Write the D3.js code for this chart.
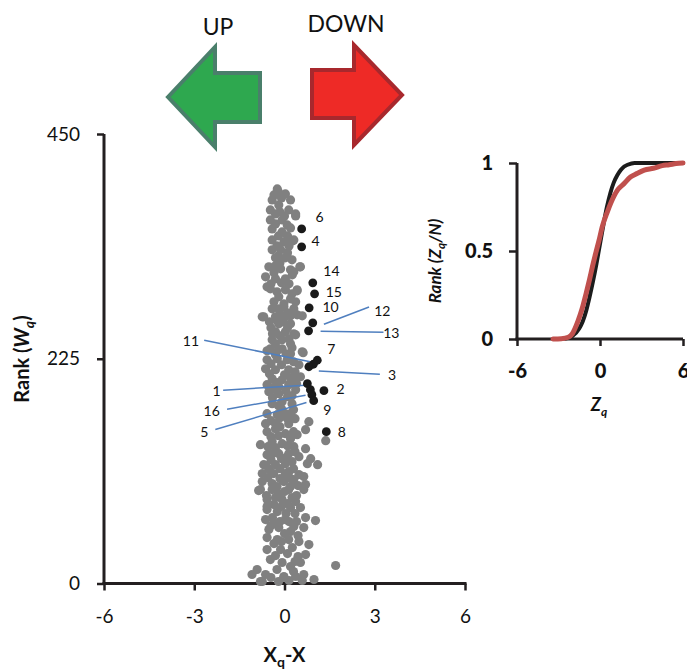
<!DOCTYPE html>
<html>
<head>
<meta charset="utf-8">
<script src="https://cdn.jsdelivr.net/npm/d3@7"></script>
<style>
  html, body { margin: 0; padding: 0; background: #fff; }
  svg { display: block; font-family: Lato, "Open Sans", sans-serif; }
</style>
</head>
<body>
<svg id="chart" width="687" height="670"></svg>
<script>
// ---------- DATA ----------
// Grey points: [Xq - X, rank Wq]
const greyPoints = [
[-0.24,395],[0.03,390],[-0.41,384],[0.2,384],[-0.19,379],[-0.47,374],[0.14,374],[0.37,370],[0.37,368],[-0.47,364],[-0.08,364],[0.09,359],[-0.3,360],[-0.41,355],[-0.08,352],[0.1,348],[-0.41,344],[0.31,344],[0.26,343],[-0.02,342],[-0.25,338],[-0.41,334],[-0.13,334],[0.1,331],[-0.3,326],[0.03,326],[-0.15,321],[-0.52,317],[0.53,317],[0.51,317],[-0.13,315],[0.2,314],[0.31,312],[-0.35,311],[0.26,309],[-0.63,307],[-0.3,305],[0.03,305],[-0.1,301],[-0.58,297],[-0.47,295],[0.03,294],[0.42,294],[0.42,293],[-0.19,287],[0.2,285],[-0.35,282],[0.37,282],[-0.02,280],[-0.41,275],[-0.02,277],[0.31,275],[0.1,271],[-0.74,267],[-0.69,267],[-0.3,267],[0.03,267],[0.42,269],[0.59,268],[-0.24,263],[-0.19,260],[0.2,260],[-0.45,256],[0.1,256],[-0.3,252],[0.03,252],[0.31,250],[0.37,249],[-0.15,248],[-0.41,244],[-0.08,244],[0.2,240],[-0.3,240],[-0.47,235],[-0.08,235],[-0.58,233],[0.62,231],[0.59,232],[0.2,230],[-0.3,229],[-0.58,224],[-0.24,225],[0.09,224],[0.48,219],[-0.1,219],[-0.63,215],[-0.3,214],[0.14,214],[0.35,212],[-0.5,210],[-0.41,205],[-0.08,204],[0.31,205],[0.53,207],[-0.25,201],[-0.58,199],[-0.19,197],[0.14,199],[0.4,200],[-0.52,192],[-0.19,190],[0.37,194],[0.1,187],[-0.4,186],[-0.41,180],[-0.08,182],[0.25,180],[-0.58,170],[0.03,170],[-0.24,169],[0.3,174],[-0.1,175],[0.81,162],[-0.63,160],[-0.3,160],[0.14,160],[0.35,165],[0.7,154],[-0.58,152],[0.03,150],[0.42,149],[-0.3,155],[1.37,143],[-0.8,139],[-0.41,142],[-0.08,140],[0.2,145],[0.31,137],[0.7,135],[-0.58,129],[-0.19,130],[0.14,130],[0.48,127],[0.87,125],[-0.69,119],[-0.3,119],[0.03,120],[0.76,120],[1.1,119],[-0.45,124],[0.3,115],[-0.74,110],[-0.36,110],[0.03,110],[0.48,109],[0.64,107],[-0.15,105],[-0.74,102],[-0.41,100],[-0.02,102],[0.31,104],[0.7,99],[0.2,97],[-0.86,93],[-0.8,94],[-0.41,94],[0.14,94],[0.64,94],[-0.2,90],[0.4,88],[-0.58,84],[-0.08,84],[0.37,82],[-0.35,79],[-0.58,77],[-0.58,74],[-0.24,72],[0.2,76],[0.53,76],[0.05,70],[1.03,63],[-0.63,64],[0.7,66],[0.03,64],[-0.35,60],[0.4,62],[-0.52,54],[-0.19,56],[0.31,57],[0.64,56],[0.0,50],[-0.58,46],[-0.24,44],[0.14,44],[0.48,42],[0.81,39],[-0.58,34],[-0.13,34],[0.26,36],[0.7,29],[-0.3,28],[0.45,27],[-0.47,24],[-0.08,21],[0.2,17],[0.53,21],[1.7,18],[-0.91,14],[-0.63,9],[-1.08,9],[-0.02,7],[0.37,7],[0.64,9],[0.98,4],[-0.74,2],[-0.8,2],[0.59,3],[-0.02,6],
[-0.2,392],[-0.1,386],[-0.3,370],[0.0,368],[-0.2,348],[0.15,338],[-0.3,318],[0.15,300],[-0.25,292],[-0.15,270],[-0.05,262],[0.15,245],[-0.2,234],[0.3,222],[0.0,209],[-0.3,194],[0.05,193],[-0.2,178],[0.1,165],[-0.15,157],[-0.45,147],[0.1,138],[-0.3,136],[-0.1,125],[0.25,122],[-0.5,114],[0.15,112],[-0.25,97],[0.0,92],[0.25,86],[-0.3,86],[-0.1,77],[0.35,70],[-0.4,66],[0.2,52],[-0.35,40],[0.1,30],[-0.25,14],[0.3,12],[-0.45,6],
[-0.35,389],[-0.15,372],[0.2,356],[-0.2,328],[0.25,324],[-0.45,300],[0.25,290],[-0.2,275],[0.2,268],[-0.5,262],[-0.4,250],[0.25,236],[0.05,230],[-0.45,220],[0.2,206],[-0.4,196],[0.25,188],[-0.15,166],[0.2,170],[-0.45,163],[-0.2,148],[0.3,152],[-0.55,137],[0.35,132],[-0.4,130],[0.05,126],[-0.6,118],[-0.15,115],[0.2,105],[-0.55,106],[0.45,98],[-0.6,88],[0.1,80],[-0.15,62],[0.15,62],[-0.45,58],[0.45,48],[-0.1,42],[0.35,22],[-0.2,2],[0.15,3]
];

// Highlighted (black) points: id, Xq - X, rank
const hiIds   = ["6","4","14","15","10","12","13","7","11","3","1","16","5","9","2","8"];
const hiX     = [0.57,0.57,0.94,1.0,0.82,0.94,0.8,1.09,0.96,0.81,0.76,0.86,0.91,0.97,1.31,1.39];
const hiRank  = [355,337,301,290,276,261,253,223.5,219.5,217,200,194,189,183,193,152];

// Label anchor positions (data units) for each id
const labelIds = ["6","4","14","15","10","12","13","11","7","3","1","2","16","9","5","8"];
const labelX   = [1.03,0.9,1.29,1.37,1.26,2.98,3.28,-3.38,1.42,3.44,-2.39,1.73,-2.69,1.29,-2.8,1.77];
const labelY   = [361.5,337.5,307.5,286.5,271.8,267.5,245.5,237.8,229.5,204.2,187.5,189.5,167.5,168.5,146.2,146.8];

// Leader lines: [x1, y1, x2, y2] in data units
const leaderIds = ["12","13","11","3","1","16","5"];
const leaders = [
  [1.31,259.5,2.81,276.8],
  [1.2,252.5,3.29,251.5],
  [-2.67,243.5,0.98,221.2],
  [1.14,212.8,3.17,209.5],
  [-2.04,193.5,0.7,198.5],
  [-1.91,174.5,0.7,188.5],
  [-2.3,154.2,0.73,181.2]
];

// Main axes ticks
const xTicks = [-6,-3,0,3,6];
const yTicks = [0,225,450];

// Inset: cumulative rank curves
const blackZ    = [-2.5,-2,-1.5,-1.25,-1,-0.75,-0.5,-0.25,0,0.25,0.5,0.75,1,1.25,1.5,1.75,2,2.5,3,6];
const blackRank = [0.003,0.017,0.06,0.1,0.16,0.24,0.33,0.43,0.54,0.65,0.75,0.83,0.89,0.93,0.96,0.98,0.99,1,1,1];
const redZ      = [-3.4,-2.8,-2.3,-2,-1.6,-1.3,-1.0,-0.75,-0.55,-0.3,-0.07,0.17,0.52,1.0,1.3,1.7,2.2,2.67,3.2,3.86,4.5,5,5.5,6];
const redRank   = [0,0.002,0.01,0.03,0.1,0.17,0.26,0.34,0.41,0.49,0.56,0.64,0.72,0.81,0.85,0.88,0.92,0.94,0.96,0.97,0.985,0.99,0.997,1];
const insetXTicks = [-6,0,6];
const insetYTicks = [0,0.5,1];

// ---------- DRAW ----------
const svg = d3.select("#chart");
const axisColor = "#231f20";
const fmt = d => String(d);

// Main scales
const x = d3.scaleLinear().domain([-6,6]).range([104,465]);
const y = d3.scaleLinear().domain([0,450]).range([583.5,134]);

// Arrows (decorative)
svg.append("path")
  .attr("d","M168,97 L215,47 L215,73 L260,73 L260,122 L215,122 L215,147 Z")
  .attr("fill","#2ea84f").attr("stroke","#4a7f6b").attr("stroke-width",4).attr("stroke-linejoin","miter");
svg.append("path")
  .attr("d","M312,70 L354,70 L354,45 L402,95 L354,145 L354,118 L312,118 Z")
  .attr("fill","#ee2a26").attr("stroke","#a8282d").attr("stroke-width",4).attr("stroke-linejoin","miter");
svg.append("text").attr("x",218).attr("y",35).attr("text-anchor","middle")
  .attr("font-size",23).attr("fill","#111").text("UP");
svg.append("text").attr("x",346).attr("y",32).attr("text-anchor","middle")
  .attr("font-size",23).attr("fill","#111").text("DOWN");

// Main axes
const gx = svg.append("g").attr("transform",`translate(0,${y(0)})`)
  .call(d3.axisBottom(x).tickValues(xTicks).tickSize(7).tickSizeOuter(0).tickPadding(19).tickFormat(fmt));
const gy = svg.append("g").attr("transform",`translate(${x(-6)},0)`)
  .call(d3.axisLeft(y).tickValues(yTicks).tickSize(7).tickSizeOuter(0).tickPadding(17).tickFormat(fmt));
[gx,gy].forEach(g=>{
  g.select(".domain").attr("stroke",axisColor).attr("stroke-width",3);
  g.selectAll(".tick line").attr("stroke",axisColor).attr("stroke-width",2.5);
  g.selectAll(".tick text").attr("font-size",19).attr("fill","#111").attr("font-family","Lato, sans-serif");
});
gx.select(".domain").attr("d",`M${x(-6)-1.5},0H${x(6)+1.5}`);
gy.select(".domain").attr("d",`M0,${y(450)}V${y(0)+1.5}`);

// Grey points
svg.append("g").selectAll("circle").data(greyPoints).join("circle")
  .attr("cx",d=>x(d[0])).attr("cy",d=>y(d[1])).attr("r",4.6).attr("fill","#808080");

// Leader lines
svg.append("g").selectAll("line").data(leaders).join("line")
  .attr("x1",d=>x(d[0])).attr("y1",d=>y(d[1])).attr("x2",d=>x(d[2])).attr("y2",d=>y(d[3]))
  .attr("stroke","#4f7fbf").attr("stroke-width",1.5);

// Black points
svg.append("g").selectAll("circle").data(hiIds.map((id,i)=>({id, xv:hiX[i], r:hiRank[i]}))).join("circle")
  .attr("cx",d=>x(d.xv)).attr("cy",d=>y(d.r)).attr("r",4.4).attr("fill","#1a1a1a");

// Labels
svg.append("g").selectAll("text").data(labelIds.map((id,i)=>({id, xv:labelX[i], yv:labelY[i]}))).join("text")
  .attr("x",d=>x(d.xv)).attr("y",d=>y(d.yv)).attr("font-size",14).attr("fill","#111").text(d=>d.id);

// Axis titles
const xt = svg.append("text").attr("x",284.5).attr("y",662).attr("text-anchor","middle")
  .attr("font-size",20).attr("font-weight","bold").attr("fill","#111");
xt.append("tspan").text("X");
xt.append("tspan").attr("font-size",14).attr("dy",5).text("q");
xt.append("tspan").attr("dy",-5).text("-X");

const yt = svg.append("text").attr("transform","translate(29,359) rotate(-90)").attr("text-anchor","middle")
  .attr("font-size",20).attr("font-weight","bold").attr("fill","#111");
yt.append("tspan").text("Rank (");
yt.append("tspan").attr("font-style","italic").text("W");
yt.append("tspan").attr("font-style","italic").attr("font-size",14).attr("dy",5).text("q");
yt.append("tspan").attr("dy",-5).text(")");

// ---------- INSET ----------
const ix = d3.scaleLinear().domain([-6,6]).range([517,683]);
const iy = d3.scaleLinear().domain([0,1]).range([339,163]);

const igx = svg.append("g").attr("transform",`translate(0,${iy(0)})`)
  .call(d3.axisBottom(ix).tickValues(insetXTicks).tickSize(7).tickSizeOuter(0).tickPadding(18).tickFormat(fmt));
const igy = svg.append("g").attr("transform",`translate(${ix(-6)},0)`)
  .call(d3.axisLeft(iy).tickValues(insetYTicks).tickSize(8).tickSizeOuter(0).tickPadding(16).tickFormat(fmt));
[igx,igy].forEach(g=>{
  g.select(".domain").attr("stroke",axisColor).attr("stroke-width",3);
  g.selectAll(".tick line").attr("stroke",axisColor).attr("stroke-width",2.5);
  g.selectAll(".tick text").attr("font-size",20).attr("font-weight","900").attr("fill","#111").attr("font-family","Lato, sans-serif");
});
igx.select(".domain").attr("d",`M${ix(-6)-1.5},0H${ix(6)}`);
igy.select(".domain").attr("d",`M0,${iy(1)}V${iy(0)+1.5}`);

const line = d3.line().x(d=>ix(d[0])).y(d=>iy(d[1])).curve(d3.curveMonotoneX);
svg.append("path").datum(blackZ.map((z,i)=>[z,blackRank[i]]))
  .attr("d",line).attr("fill","none").attr("stroke","#1c1c1c").attr("stroke-width",4).attr("stroke-linecap","round");
svg.append("path").datum(redZ.map((z,i)=>[z,redRank[i]]))
  .attr("d",line).attr("fill","none").attr("stroke","#c0504d").attr("stroke-width",5).attr("stroke-linecap","round");

const izt = svg.append("text").attr("x",599).attr("y",411).attr("text-anchor","middle")
  .attr("font-size",18).attr("font-weight","bold").attr("font-style","italic").attr("fill","#111");
izt.append("tspan").text("Z");
izt.append("tspan").attr("font-size",12).attr("dy",5).text("q");

const iyt = svg.append("text").attr("transform","translate(441,261) rotate(-90)").attr("text-anchor","middle")
  .attr("font-size",17).attr("font-weight","bold").attr("font-style","italic").attr("fill","#111");
iyt.append("tspan").text("Rank (Z");
iyt.append("tspan").attr("font-size",12).attr("dy",4).text("q");
iyt.append("tspan").attr("dy",-4).text("/N)");
</script>
</body>
</html>
